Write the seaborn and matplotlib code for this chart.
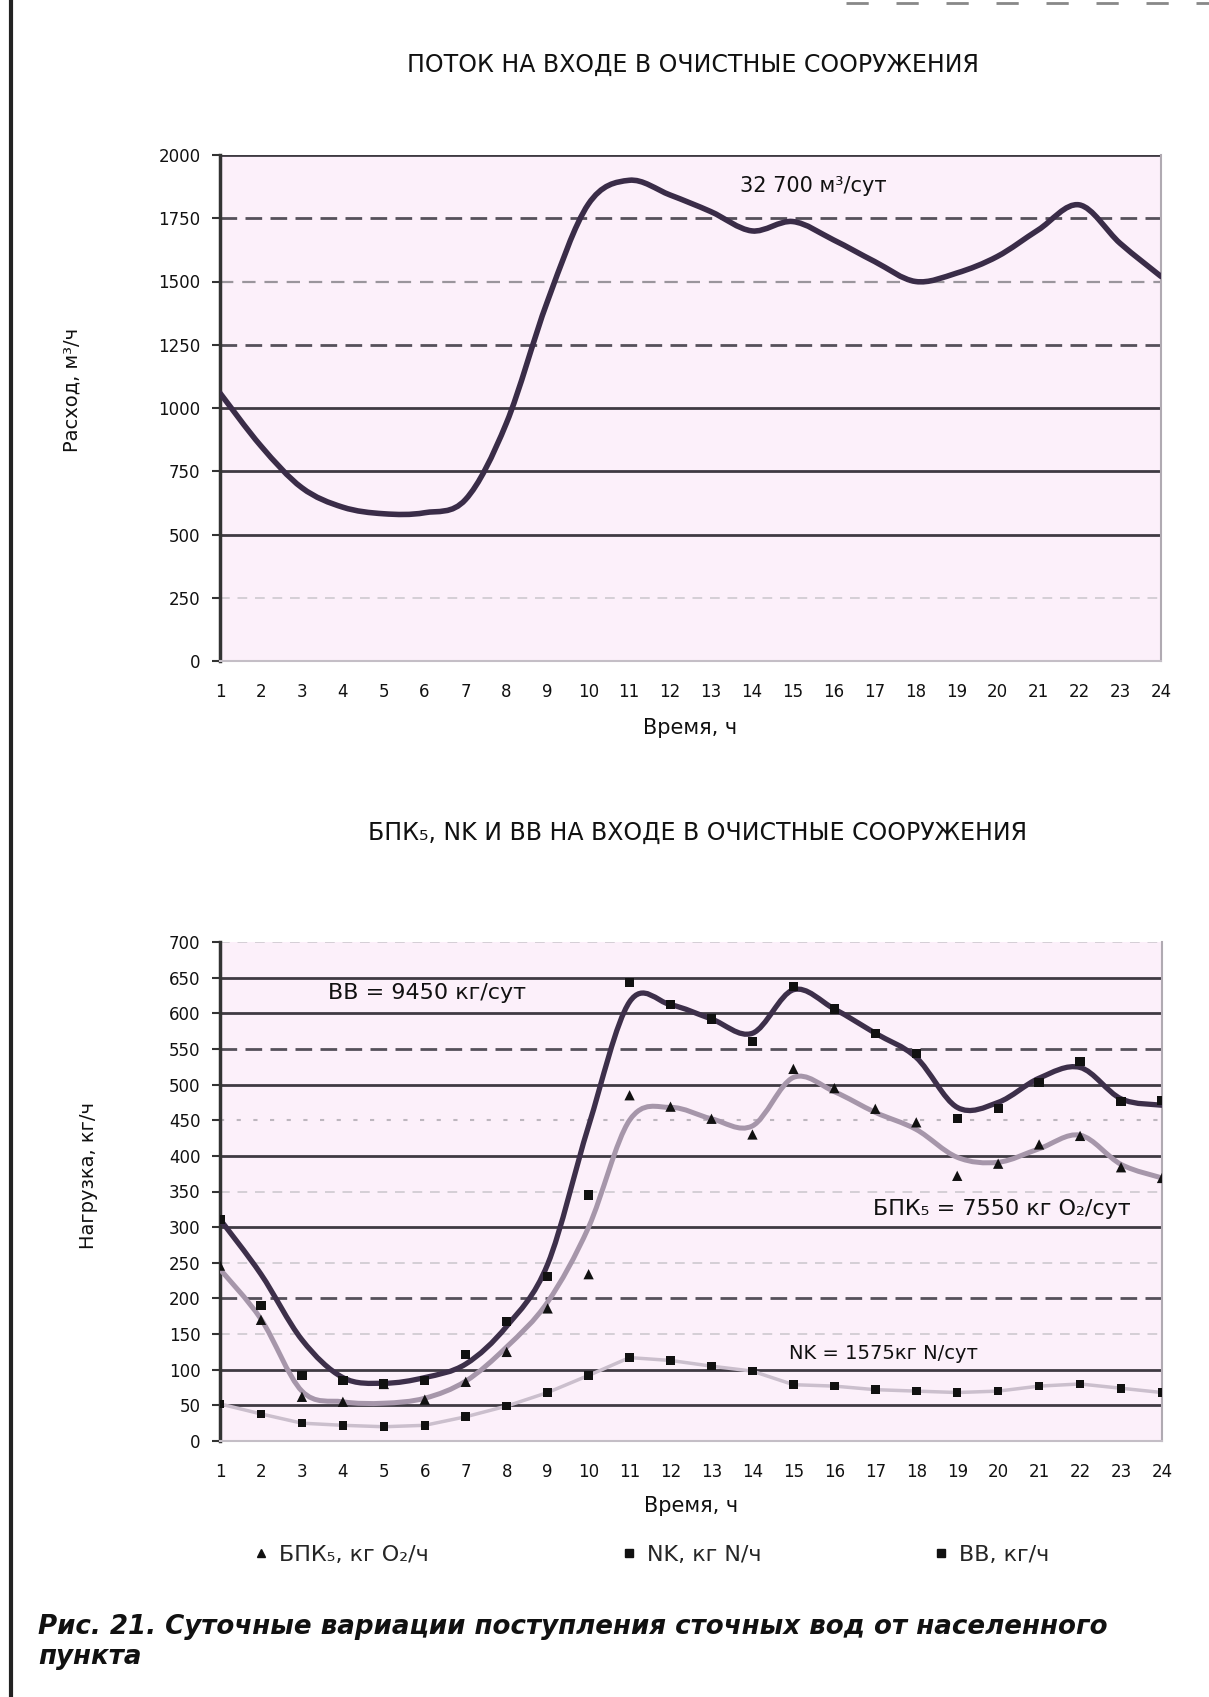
import matplotlib
matplotlib.use("Agg")
import matplotlib.pyplot as plt
from matplotlib.lines import Line2D
from matplotlib.path import Path
from matplotlib.patches import PathPatch
import seaborn as sns

# ---- data -------------------------------------------------------------
hours = list(range(1, 25))
hour_labels = [str(h) for h in hours]

# inflow to the treatment plant, m3/h
flow = [1059, 850, 685, 608, 582, 586, 638, 940, 1420, 1805, 1900, 1842,
        1776, 1700, 1737, 1664, 1579, 1500, 1533, 1599, 1704, 1803, 1651, 1520]
flow_ticks = list(range(0, 2001, 250))

# loads, kg/h
bb_curve = [311, 234, 142, 89, 81, 89, 108, 161, 248, 442, 616, 612,
            592, 572, 633, 606, 572, 538, 468, 475, 509, 524, 480, 471]
bb_points = [311, 190, 92, 85, 80, 85, 121, 168, 231, 345, 643, 612,
             592, 560, 638, 606, 572, 544, 452, 466, 503, 532, 476, 478]
bod_curve = [241, 171, 70, 55, 53, 60, 84, 132, 195, 300, 450, 468,
             452, 442, 510, 490, 461, 437, 398, 391, 410, 429, 388, 369]
bod_points = [246, 170, 62, 55, 80, 58, 83, 125, 186, 234, 485, 469,
              452, 430, 522, 495, 466, 447, 372, 389, 416, 428, 384, 369]
nk_points = [52, 38, 25, 22, 20, 22, 34, 49, 68, 92, 117, 113,
             105, 98, 79, 77, 72, 70, 68, 70, 77, 80, 74, 68]
load_ticks = list(range(0, 701, 50))

legend_labels = ["БПК\u2085, кг O\u2082/ч", "NK, кг N/ч", "ВВ, кг/ч"]

# ---- styling ----------------------------------------------------------
sns.set_theme(style="white")
plt.rcParams["font.family"] = ["DejaVu Sans"]

GRID = {
    "solid": dict(color="#3f3a42", lw=2.0, ls="-"),
    "dashed": dict(color="#55505a", lw=2.0, ls=(0, (6, 3))),
    "dashed_light": dict(color="#9a959c", lw=1.6, ls=(0, (6, 4))),
    "faint": dict(color="#d4cfd5", lw=1.4, ls=(0, (5, 4))),
    "dotted": dict(color="#bdb6be", lw=1.5, ls=(0, (2, 6))),
}
top_grid = {250: "faint", 500: "solid", 750: "solid", 1000: "solid",
            1250: "dashed", 1500: "dashed_light", 1750: "dashed", 2000: "solid"}
bottom_grid = {50: "solid", 100: "solid", 150: "faint", 200: "dashed",
               250: "faint", 300: "solid", 350: "faint", 400: "solid",
               450: "dotted", 500: "solid", 550: "dashed", 600: "solid",
               650: "solid", 700: "faint"}

FACE = "#fcf0fa"
W, H = 1209, 1697
fig = plt.figure(figsize=(W / 100, H / 100), dpi=100)
fig.patch.set_facecolor("white")


def frac_box(left, top, right, bottom):
    return [left / W, 1 - bottom / H, (right - left) / W, (bottom - top) / H]


def smooth_curve(ax, xs, ys, **kw):
    """Draw a spreadsheet-style smoothed line (Catmull-Rom Bezier segments)."""
    n = len(xs)
    verts = [(xs[0], ys[0])]
    codes = [Path.MOVETO]
    for i in range(n - 1):
        a = max(i - 1, 0)
        b = min(i + 2, n - 1)
        c1 = (xs[i] + (xs[i + 1] - xs[a]) / 6, ys[i] + (ys[i + 1] - ys[a]) / 6)
        c2 = (xs[i + 1] - (xs[b] - xs[i]) / 6,
              ys[i + 1] - (ys[b] - ys[i]) / 6)
        verts += [c1, c2, (xs[i + 1], ys[i + 1])]
        codes += [Path.CURVE4] * 3
    patch = PathPatch(Path(verts, codes), facecolor="none",
                      capstyle="round", joinstyle="round", **kw)
    ax.add_patch(patch)


def style_axes(ax, yticks, ymax, grid_map, xlabel_y, ylabel_x, ylabel_y, ylabel):
    ax.set_facecolor(FACE)
    ax.set_xlim(1, 24)
    ax.set_ylim(0, ymax)
    for v, kind in grid_map.items():
        st = GRID[kind]
        ax.axhline(v, color=st["color"], lw=st["lw"], ls=st["ls"], zorder=1)
    ax.set_xticks(hours)
    ax.set_xticklabels(hour_labels)
    ax.set_xticks(hours[1::2], minor=True)
    ax.tick_params(axis="x", which="major", length=0, pad=16, labelsize=12,
                   labelcolor="#111")
    ax.tick_params(axis="x", which="minor", length=10, width=2,
                   color="#1a1a1a", direction="out", bottom=True)
    ax.set_yticks(yticks)
    ax.set_yticklabels([str(t) for t in yticks])
    ax.tick_params(axis="y", length=6, width=1.5, color="#333",
                   direction="out", pad=8, labelsize=12, labelcolor="#111",
                   left=True)
    ax.spines["top"].set_visible(False)
    ax.spines["left"].set_color("#333")
    ax.spines["left"].set_linewidth(2.5)
    ax.spines["bottom"].set_color("#c4bec6")
    ax.spines["bottom"].set_linewidth(1.5)
    ax.spines["right"].set_color("#b0aab2")
    ax.spines["right"].set_linewidth(1.5)
    ax.set_xlabel("Время, ч", fontsize=15, color="#111")
    ax.xaxis.set_label_coords(0.5, xlabel_y)
    ax.set_ylabel(ylabel, fontsize=14, color="#111")
    ax.yaxis.set_label_coords(ylabel_x, ylabel_y)


# ---- top panel: flow -------------------------------------------------
ax1 = fig.add_axes(frac_box(220, 155, 1161, 661))
style_axes(ax1, flow_ticks, 2000, top_grid, -0.112, -0.147, 0.535,
           "Расход, м\u00b3/ч")
smooth_curve(ax1, hours, flow, edgecolor="#3a2c48", linewidth=4.0, zorder=3)
ax1.text(15.5, 1877, "32 700 м\u00b3/сут", ha="center", va="center",
         fontsize=15, color="#111", zorder=4)
fig.text(693 / W, 1 - 65 / H, "ПОТОК НА ВХОДЕ В ОЧИСТНЫЕ СООРУЖЕНИЯ",
         ha="center", va="center", fontsize=17, color="#111")

# ---- bottom panel: loads ---------------------------------------------
ax2 = fig.add_axes(frac_box(220, 942, 1162, 1441))
style_axes(ax2, load_ticks, 700, bottom_grid, -0.110, -0.130, 0.533,
           "Нагрузка, кг/ч")
sns.lineplot(x=hours, y=nk_points, ax=ax2, color="#cbbfcd", linewidth=2.5,
             zorder=3)
smooth_curve(ax2, hours, bod_curve, edgecolor="#a696aa", linewidth=3.6,
             zorder=3)
smooth_curve(ax2, hours, bb_curve, edgecolor="#3d2f4a", linewidth=3.8,
             zorder=3)
sns.scatterplot(x=hours, y=nk_points, ax=ax2, marker="s", s=38,
                color="#111", edgecolor="none", zorder=4)
sns.scatterplot(x=hours, y=bod_points, ax=ax2, marker="^", s=55,
                color="#111", edgecolor="none", zorder=4)
sns.scatterplot(x=hours, y=bb_points, ax=ax2, marker="s", s=45,
                color="#111", edgecolor="none", zorder=4)
ax2.set_xlim(1, 24)
ax2.set_ylim(0, 700)
ax2.text(6.06, 628, "ВВ = 9450 кг/сут", ha="center", va="center",
         fontsize=16, color="#111", zorder=5)
ax2.text(20.1, 325, "БПК\u2085 = 7550 кг O\u2082/сут", ha="center",
         va="center", fontsize=16, color="#111", zorder=5)
ax2.text(17.2, 123, "NK = 1575кг N/сут", ha="center", va="center",
         fontsize=14, color="#111", zorder=5)
fig.text(698 / W, 1 - 833 / H,
         "БПК\u2085, NK И ВВ НА ВХОДЕ В ОЧИСТНЫЕ СООРУЖЕНИЯ",
         ha="center", va="center", fontsize=17, color="#111")

# ---- legend -----------------------------------------------------------
legend_markers = ["^", "s", "s"]
legend_x = [252, 620, 932]
for lab, mk, lx in zip(legend_labels, legend_markers, legend_x):
    handle = Line2D([], [], marker=mk, color="#111", linestyle="none",
                    markersize=6)
    fig.legend(handles=[handle], labels=[lab], loc="center left",
               bbox_to_anchor=(lx / W, 1 - 1555 / H), frameon=False,
               borderpad=0, borderaxespad=0, handlelength=0.8,
               handletextpad=0.4, fontsize=16)

# ---- caption ---------------------------------------------------------
cap_kw = dict(ha="left", va="center", fontsize=18.8, fontweight="bold",
              fontstyle="italic", color="#111")
fig.text(38 / W, 1 - 1627 / H,
         "Рис. 21. Суточные вариации поступления сточных вод от населенного",
         **cap_kw)
fig.text(38 / W, 1 - 1657 / H, "пункта", **cap_kw)

# page frame
fig.add_artist(Line2D([11 / W, 11 / W], [0, 1], transform=fig.transFigure,
                      color="#222", lw=3))
fig.add_artist(Line2D([0.70, 1.0], [1 - 3 / H, 1 - 3 / H],
                      transform=fig.transFigure, color="#888", lw=2,
                      ls=(0, (8, 10))))

fig.savefig("out.png", dpi=100)
